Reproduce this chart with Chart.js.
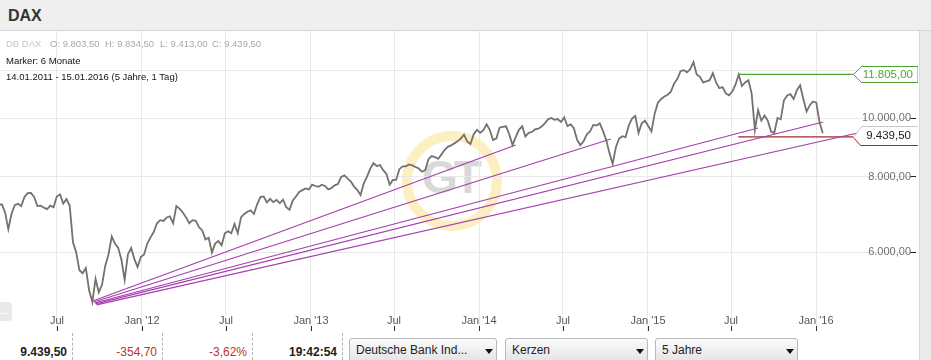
<!DOCTYPE html>
<html lang="de">
<head>
<meta charset="utf-8">
<title>DAX</title>
<script src="https://cdn.jsdelivr.net/npm/chart.js@4.4.1/dist/chart.umd.min.js"></script>
<style>
  * { box-sizing: border-box; }
  body { margin: 0; width: 931px; height: 360px; overflow: hidden; background: #fff;
         font-family: "Liberation Sans", Arial, sans-serif; position: relative; }
  #head { position: absolute; left: 0; top: 0; width: 931px; height: 31px; background: #efefef; border-bottom: 1px solid #d6d6d6; }
  #head b { position: absolute; left: 8px; top: 7px; font-size: 16px; color: #333; }
  #side { position: absolute; left: 919px; top: 31px; width: 12px; height: 329px; background: #ebebeb; border-left: 1px solid #dadada; }
  #ring { position: absolute; left: 402px; top: 131px; width: 100px; height: 100px; border: 10px solid #fcefc2; border-radius: 50%; }
  #gt { position: absolute; left: 400px; top: 154px; width: 100px; text-align: center; font: bold 46px/46px "Liberation Sans", Arial, sans-serif; color: #d9d9d9; letter-spacing: -4px; }
  #plot { position: absolute; left: 0; top: 31px; width: 918px; height: 300px; }
  .info { position: absolute; font-size: 9.5px; line-height: 12px; white-space: nowrap; color: #111; }
  .grey { color: #a9a9a9; }
  #arrow { position: absolute; left: -7px; top: 302px; width: 19px; height: 19px; background: #e9e9e9; border-radius: 4px; color: #fff; font-size: 12px; line-height: 19px; text-align: right; padding-right: 2px; }
  #bar { position: absolute; left: 0; top: 332px; width: 919px; height: 28px; }
  .val { position: absolute; top: 13px; font-size: 12px; line-height: 14px; text-align: right; color: #222; }
  .neg { color: #b8362b; }
  .sep { position: absolute; top: 1px; height: 27px; border-left: 1px dashed #b3b3b3; }
  .dd { position: absolute; top: 6px; height: 26px; border: 1px solid #b9b9b9; border-radius: 3px;
        background: linear-gradient(#fbfbfb, #e2e2e2); font-size: 12px; line-height: 14px; color: #222; padding: 4px 0 0 6px; }
  .dd i { position: absolute; top: 10px; width: 0; height: 0; border-left: 4px solid transparent; border-right: 4px solid transparent; border-top: 5px solid #111; }
</style>
</head>
<body>
<div id="head"><b>DAX</b></div>
<div id="side"></div>
<div id="ring"></div>
<div id="gt">GT</div>
<div id="plot"><canvas id="daxChart"></canvas></div>
<div id="info"></div>
<div id="arrow">&#8594;</div>
<div id="bar"></div>

<script>
// weekly DAX values (Friday)
const firstWeek = '2011-01-14';
const close2011 = [7075, 7062, 7102, 7217, 7371, 7426, 7185, 7200, 6982, 6550,
  6946, 7177, 7217, 7150, 7403, 7514, 7520, 7405, 7152, 7163,
  7109, 7070, 7165, 7121, 7419, 7480, 7220, 7344, 7159, 6236,
  5997, 5602, 5538, 5650, 5190, 4965, 5420, 5150, 5300, 5700,
  5950, 6370, 6200, 6100, 5830, 5400, 5950, 6100, 5850, 5670, 5890];
const close2012 = [5950, 6200, 6350, 6480, 6700, 6780, 6760, 6850, 6880, 6700,
  7150, 7080, 6980, 6850, 6700, 6780, 6760, 6600, 6520, 6300,
  6340, 5990, 6200, 6260, 6160, 6450, 6500, 6450, 6680, 6450,
  6850, 6940, 7000, 7040, 6940, 7200, 7400, 7420, 7250, 7350,
  7260, 7320, 7230, 7330, 7120, 7050, 7300, 7420, 7550, 7600,
  7650, 7620];
const close2013 = [7760, 7720, 7700, 7760, 7720, 7620, 7660, 7740, 7780, 7990,
  8040, 7940, 7850, 7700, 7600, 7460, 7800, 8000, 8250, 8420,
  8330, 8360, 8200, 8080, 7760, 7900, 7900, 8230, 8320, 8320,
  8380, 8350, 8300, 8250, 8150, 8200, 8550, 8650, 8620, 8560,
  8700, 8860, 8960, 9010, 9080, 9150, 9250, 9390, 9150, 9060,
  9400, 9560];
const close2014 = [9450, 9550, 9760, 9550, 9200, 9250, 9640, 9670, 9690, 9400,
  9020, 9300, 9560, 9690, 9320, 9450, 9480, 9580, 9600, 9680,
  9800, 9950, 10000, 9930, 9960, 9850, 10020, 9700, 9760, 9620,
  9200, 9020, 9150, 9400, 9500, 9740, 9720, 9800, 9520, 9200,
  8750, 8400, 8950, 9250, 9330, 9300, 9730, 9980, 10080, 9450,
  9800, 9900];
const close2015 = [9700, 9500, 10170, 10600, 10750, 10850, 10930, 11050, 11400, 11600,
  11950, 12000, 11900, 12050, 12370, 11800, 11700, 11450, 11500, 11550,
  11860, 11450, 11200, 11250, 10980, 10900, 11060, 11350, 11800, 11300,
  11450, 11550, 10985, 9550, 10300, 9900, 10100, 9900, 9500, 9450,
  10000, 9950, 10700, 10900, 10950, 10750, 11120, 11330, 10750, 10250,
  10500, 10650];
const close2016 = [10600, 9850, 9439.5];

// header values
const ohlcNames = ['O', 'H', 'L', 'C'];
const ohlcValues = [9803.5, 9834.5, 9413.0, 9439.5];
const lastPrice = 9439.5;
const dayChange = -354.7;
const dayChangePct = -3.62;
const quoteTime = '19:42:54';

// trend lines from the 2011 low
const trendFrom = ['2011-09-17', '2011-09-19', '2011-09-21', '2011-09-23', '2011-09-25'];
const trendFromValue = [4984, 4965, 4946, 4928, 4910];
const trendTo = ['2014-03-21', '2014-10-13', '2015-08-28', '2016-01-16', '2016-05-08'];
const trendToValue = [9024, 9232, 9627, 9849, 9590];

// horizontal levels
const levelFrom = '2015-07-16';
const levelTo = '2016-03-21';
const highLevel = 11805;
const lowLevel = 9310;

// axes
const xTickDates = ['2011-07-01', '2012-01-01', '2012-07-01', '2013-01-01', '2013-07-01',
  '2014-01-01', '2014-07-01', '2015-01-01', '2015-07-01', '2016-01-01'];
const xTickLabels = ['Jul', "Jan '12", 'Jul', "Jan '13", 'Jul', "Jan '14", 'Jul', "Jan '15", 'Jul', "Jan '16"];
const yTicks = [6000, 8000, 10000, 12000];
const xMin = Date.parse('2011-02-28');
const xMax = Date.parse('2016-07-22');
const yMin = 4445.6;
const yMax = 13927;

function fmtDE(v) {
  const parts = Math.abs(v).toFixed(2).split('.');
  return (v < 0 ? '-' : '') + parts[0].replace(/\B(?=(\d{3})+(?!\d))/g, '.') + ',' + parts[1];
}

// html texts
const info = document.getElementById('info');
const ohlcLeft = [50, 105, 160, 212];
let html = '<div class="info" style="left:6px;top:38px;color:#c6c6c6">DB DAX</div>';
ohlcNames.forEach((n, i) => {
  html += `<div class="info grey" style="left:${ohlcLeft[i]}px;top:38px">${n}: ${fmtDE(ohlcValues[i])}</div>`;
});
html += '<div class="info" style="left:6px;top:55px">Marker: 6 Monate</div>';
html += '<div class="info" style="left:6px;top:71px">14.01.2011 - 15.01.2016 (5 Jahre, 1 Tag)</div>';
info.innerHTML = html;

document.getElementById('bar').innerHTML =
  `<div class="val" style="left:0;width:67px;font-weight:bold">${fmtDE(lastPrice)}</div>` +
  `<div class="sep" style="left:72px"></div>` +
  `<div class="val neg" style="left:80px;width:77px">${fmtDE(dayChange)}</div>` +
  `<div class="sep" style="left:162px"></div>` +
  `<div class="val neg" style="left:170px;width:77px">${fmtDE(dayChangePct)}%</div>` +
  `<div class="sep" style="left:252px"></div>` +
  `<div class="val" style="left:260px;width:77px;font-weight:bold">${quoteTime}</div>` +
  `<div class="sep" style="left:342px"></div>` +
  `<div class="dd" style="left:349px;width:148px">Deutsche Bank Ind...<i style="left:135px"></i></div>` +
  `<div class="dd" style="left:505px;width:143px">Kerzen<i style="left:130px"></i></div>` +
  `<div class="dd" style="left:655px;width:143px">5 Jahre<i style="left:130px"></i></div>`;

const t0 = Date.parse(firstWeek);
const WEEK_MS = 7 * 24 * 3600 * 1000;
const closes = [...close2011, ...close2012, ...close2013, ...close2014, ...close2015, ...close2016];
const priceData = closes.map((v, i) => ({ x: t0 + i * WEEK_MS, y: v }));

const trendSets = trendFrom.map((d, i) => ({
  data: [{ x: Date.parse(d), y: trendFromValue[i] }, { x: Date.parse(trendTo[i]), y: trendToValue[i] }],
  borderColor: '#a43fae', borderWidth: 1.2
}));

// y labels that sit under the level box are not shown
const hiddenByBox = v => Math.abs(Math.log10(v) - Math.log10(highLevel)) < 0.02;

const boxes = {
  id: 'boxes',
  afterDraw(chart) {
    const { ctx, chartArea, scales: { x, y } } = chart;
    const right = chart.width;
    ctx.save();
    // x labels inside the plot, ticks above the axis line
    ctx.font = '11px "Liberation Sans", Arial, sans-serif';
    ctx.fillStyle = '#555';
    ctx.textAlign = 'center';
    ctx.textBaseline = 'middle';
    ctx.strokeStyle = '#333';
    ctx.lineWidth = 1;
    xTickDates.forEach((d, i) => {
      const px = Math.round(x.getPixelForValue(Date.parse(d)));
      ctx.fillText(xTickLabels[i], px, chartArea.bottom - 10);
      ctx.beginPath();
      ctx.moveTo(px + 0.5, chartArea.bottom - 5);
      ctx.lineTo(px + 0.5, chartArea.bottom);
      ctx.stroke();
    });

    const tip = Math.round(x.getPixelForValue(Date.parse(levelTo))) + 0.5;
    ctx.font = '11.5px "Liberation Sans", Arial, sans-serif';
    ctx.textAlign = 'right';

    // green resistance box
    const yg = Math.round(y.getPixelForValue(highLevel)) + 0.5;
    ctx.beginPath();
    ctx.moveTo(tip, yg);
    ctx.lineTo(tip + 8, yg - 8);
    ctx.lineTo(right, yg - 8);
    ctx.lineTo(right, yg + 8);
    ctx.lineTo(tip + 8, yg + 8);
    ctx.closePath();
    ctx.fillStyle = '#fff';
    ctx.fill();
    ctx.strokeStyle = '#4fa62e';
    ctx.stroke();
    ctx.fillStyle = '#4fa62e';
    ctx.fillText(fmtDE(highLevel), 913, yg + 0.5);

    // price box over the red level
    const yr = Math.round(y.getPixelForValue(lowLevel)) + 0.5;
    ctx.beginPath();
    ctx.moveTo(tip, yr);
    ctx.lineTo(tip + 8, yr - 11);
    ctx.lineTo(right, yr - 11);
    ctx.lineTo(right, yr + 8);
    ctx.lineTo(tip + 7, yr + 8);
    ctx.closePath();
    ctx.fillStyle = '#fff';
    ctx.fill();
    ctx.beginPath();
    ctx.moveTo(tip, yr);
    ctx.lineTo(tip + 8, yr - 11);
    ctx.lineTo(right, yr - 11);
    ctx.strokeStyle = '#c8c8c8';
    ctx.stroke();
    ctx.beginPath();
    ctx.moveTo(tip, yr);
    ctx.lineTo(tip + 7, yr + 8);
    ctx.lineTo(right, yr + 8);
    ctx.strokeStyle = '#9c2b2b';
    ctx.stroke();
    ctx.fillStyle = '#222';
    ctx.fillText(fmtDE(lastPrice), 911, yr - 1.5);
    ctx.restore();
  }
};

new Chart(document.getElementById('daxChart'), {
  type: 'line',
  data: {
    datasets: [
      { data: priceData, borderColor: '#767070', borderWidth: 1.8 },
      ...trendSets,
      { data: [{ x: Date.parse(levelFrom), y: highLevel }, { x: Date.parse(levelTo), y: highLevel }], borderColor: '#4fa62e', borderWidth: 1.3 },
      { data: [{ x: Date.parse(levelFrom), y: lowLevel }, { x: Date.parse(levelTo), y: lowLevel }], borderColor: '#9c2b2b', borderWidth: 1.3 }
    ]
  },
  options: {
    responsive: true,
    maintainAspectRatio: false,
    animation: false,
    events: [],
    elements: { point: { radius: 0 }, line: { tension: 0 } },
    layout: { padding: 0 },
    plugins: { legend: { display: false }, tooltip: { enabled: false } },
    scales: {
      x: {
        type: 'linear', min: xMin, max: xMax, bounds: 'data',
        afterBuildTicks: a => { a.ticks = xTickDates.map(d => ({ value: Date.parse(d) })); },
        afterFit: a => { a.paddingLeft = 0; a.paddingRight = 0; },
        ticks: { display: false },
        grid: { color: '#e9e9e9', drawTicks: false },
        border: { color: '#bdbdbd' }
      },
      y: {
        type: 'logarithmic', position: 'right', min: yMin, max: yMax, bounds: 'data',
        afterBuildTicks: a => { a.ticks = yTicks.map(v => ({ value: v })); },
        afterFit: a => { a.paddingTop = 0; a.paddingBottom = 0; },
        ticks: { mirror: true, padding: 1, color: '#707070', font: { family: '"Liberation Sans", Arial, sans-serif', size: 11 },
                 callback: v => hiddenByBox(v) ? '' : fmtDE(v) },
        grid: { color: '#e9e9e9', tickColor: '#222', tickLength: 6 },
        border: { display: false }
      }
    }
  },
  plugins: [boxes]
});
</script>
</body>
</html>
